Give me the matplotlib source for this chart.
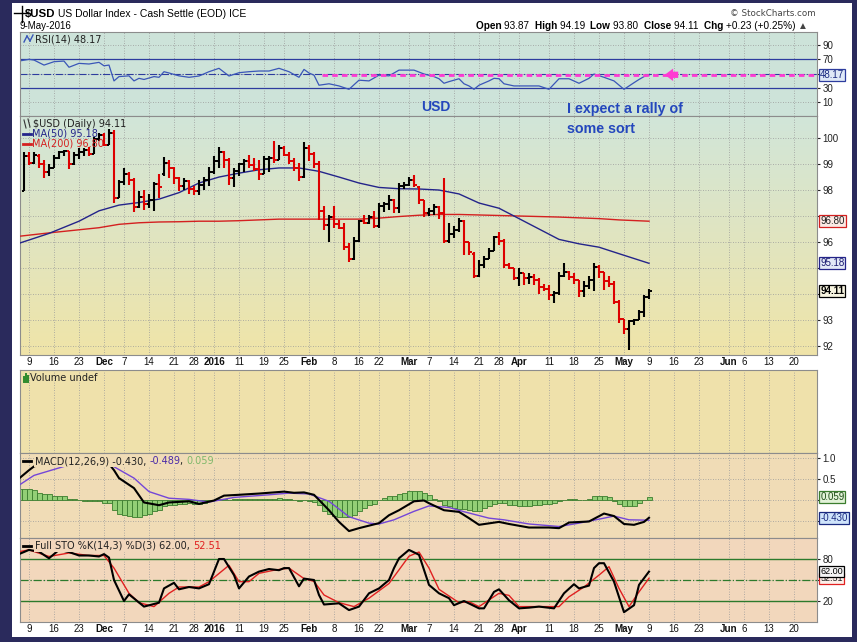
import numpy as np
import pandas as pd
import matplotlib
matplotlib.use("Agg")
import matplotlib.pyplot as plt
from matplotlib.lines import Line2D
from matplotlib.patches import Rectangle

W, H = 857, 642

# ---------------- calendar / ticks ----------------
holidays = ["2015-11-26", "2015-12-25", "2016-01-01", "2016-01-18",
            "2016-02-15", "2016-03-25", "2016-05-30"]
tick_dates = ["2015-11-09", "2015-11-16", "2015-11-23", "2015-12-01", "2015-12-07",
              "2015-12-14", "2015-12-21", "2015-12-28", "2016-01-04", "2016-01-11",
              "2016-01-19", "2016-01-25", "2016-02-01", "2016-02-08", "2016-02-16",
              "2016-02-22", "2016-03-01", "2016-03-07", "2016-03-14", "2016-03-21",
              "2016-03-28", "2016-04-01", "2016-04-11", "2016-04-18", "2016-04-25",
              "2016-05-02", "2016-05-09", "2016-05-16", "2016-05-23", "2016-06-01",
              "2016-06-06", "2016-06-13", "2016-06-20"]
tick_labels = ["9", "16", "23", "Dec", "7", "14", "21", "28", "2016", "11", "19", "25",
               "Feb", "8", "16", "22", "Mar", "7", "14", "21", "28", "Apr", "11", "18",
               "25", "May", "9", "16", "23", "Jun", "6", "13", "20"]
bold_labels = ["Dec", "2016", "Feb", "Mar", "Apr", "May", "Jun"]

# ---------------- daily bars, 6-Nov-2015 .. 9-May-2016 ----------------
opens = [97.95, 99.30, 99.05, 99.30, 99.00, 98.70, 98.85, 99.25, 99.45, 99.50,
         99.00, 99.35, 99.45, 99.55, 99.40, 99.95, 100.10, 99.75, 100.20, 97.70,
         98.30, 98.60, 98.40, 97.35, 97.75, 97.45, 97.60, 98.25, 98.60, 99.05,
         98.85, 98.45, 98.15, 98.35, 98.05, 97.95, 98.20, 98.40, 98.70, 99.10,
         99.45, 99.15, 98.45, 98.75, 99.00, 99.10, 98.95, 98.80, 98.60, 99.20,
         99.25, 99.15, 99.60, 99.35, 99.10, 98.85, 98.50, 99.60, 99.40, 99.00,
         97.20, 96.65, 96.95, 96.70, 96.55, 95.80, 95.35, 96.05, 96.80, 96.75,
         96.95, 96.60, 97.40, 97.45, 97.60, 97.30, 98.15, 98.20, 98.40, 98.10,
         97.60, 97.10, 97.20, 97.35, 97.10, 96.05, 96.30, 96.45, 96.80, 96.00,
         95.55, 94.70, 95.10, 95.35, 95.65, 96.20, 96.05, 95.10, 95.00, 94.60,
         94.80, 94.60, 94.65, 94.55, 94.25, 94.20, 93.95, 94.05, 94.70, 94.85,
         94.65, 94.55, 94.10, 94.30, 94.55, 95.05, 94.85, 94.50, 94.40, 93.70,
         93.05, 92.65, 92.95, 93.00, 93.30, 93.87]
highs = [99.45, 99.45, 99.45, 99.40, 99.15, 99.00, 99.35, 99.50, 99.55, 99.50,
         99.45, 99.60, 99.60, 99.65, 100.05, 100.20, 100.20, 100.35, 100.30, 98.40,
         98.85, 98.70, 98.45, 97.95, 98.00, 97.85, 98.30, 98.60, 99.27, 99.15,
         98.90, 98.50, 98.45, 98.40, 98.15, 98.40, 98.50, 98.90, 99.30, 99.65,
         99.50, 99.25, 98.85, 99.05, 99.20, 99.35, 99.25, 99.15, 99.30, 99.30,
         99.90, 99.75, 99.70, 99.45, 99.25, 99.05, 99.85, 99.75, 99.45, 99.10,
         97.40, 97.05, 97.40, 96.85, 96.75, 95.95, 96.20, 96.85, 97.05, 97.05,
         97.20, 97.50, 97.55, 97.80, 97.65, 98.27, 98.30, 98.50, 98.58, 98.15,
         97.60, 97.30, 97.45, 97.40, 98.46, 96.75, 96.60, 96.92, 96.85, 96.00,
         95.60, 95.30, 95.45, 95.75, 96.25, 96.40, 96.10, 95.20, 95.00, 95.00,
         94.80, 94.80, 94.75, 94.60, 94.40, 94.35, 94.10, 94.85, 95.20, 94.90,
         94.80, 94.55, 94.50, 94.70, 95.20, 95.10, 94.85, 94.70, 94.50, 93.75,
         93.05, 93.00, 93.05, 93.40, 93.95, 94.19]
lows = [97.95, 98.95, 99.00, 98.85, 98.45, 98.55, 98.85, 99.20, 99.30, 98.80,
        98.95, 99.20, 99.30, 99.30, 99.40, 99.90, 99.70, 99.75, 97.50, 97.70,
        98.20, 98.20, 97.15, 97.30, 97.25, 97.30, 97.20, 97.70, 98.55, 98.45,
        98.25, 97.95, 98.00, 97.85, 97.80, 97.80, 98.00, 98.15, 98.60, 98.85,
        98.85, 98.20, 98.10, 98.55, 98.70, 98.85, 98.75, 98.40, 98.60, 98.70,
        99.05, 99.15, 99.30, 99.00, 98.75, 98.35, 98.45, 99.10, 98.85, 96.85,
        96.45, 96.00, 96.55, 96.50, 95.70, 95.23, 95.30, 96.00, 96.70, 96.70,
        96.55, 96.55, 97.15, 97.25, 97.10, 97.10, 98.05, 98.15, 98.10, 97.45,
        96.95, 97.00, 97.05, 96.90, 95.96, 95.96, 96.15, 96.40, 95.50, 95.50,
        94.60, 94.65, 95.00, 95.35, 95.65, 95.90, 95.00, 94.95, 94.55, 94.30,
        94.35, 94.40, 94.35, 94.00, 94.10, 93.77, 93.65, 93.96, 94.65, 94.55,
        94.40, 93.90, 93.90, 94.20, 94.10, 94.60, 94.15, 94.25, 93.60, 92.90,
        92.45, 91.85, 92.80, 93.00, 93.10, 93.80]
closes = [99.30, 99.05, 99.35, 99.00, 98.70, 98.85, 99.25, 99.45, 99.50, 99.00,
          99.35, 99.45, 99.55, 99.40, 99.95, 100.10, 99.75, 100.20, 97.70, 98.30,
          98.60, 98.40, 97.35, 97.75, 97.45, 97.60, 98.25, 98.10, 99.05, 98.85,
          98.45, 98.15, 98.35, 98.05, 97.95, 98.20, 98.40, 98.70, 99.10, 99.45,
          99.15, 98.45, 98.75, 99.00, 99.10, 98.95, 98.80, 98.60, 99.20, 99.25,
          99.15, 99.60, 99.35, 99.10, 98.85, 98.50, 99.60, 99.40, 99.00, 97.20,
          96.65, 96.95, 96.70, 96.55, 95.80, 95.35, 96.05, 96.80, 96.75, 96.95,
          96.60, 97.40, 97.45, 97.60, 97.30, 98.15, 98.20, 98.40, 98.20, 97.60,
          97.10, 97.20, 97.35, 97.10, 96.05, 96.30, 96.45, 96.80, 96.00, 95.60,
          94.70, 95.10, 95.35, 95.65, 96.20, 96.05, 95.10, 95.00, 94.60, 94.80,
          94.60, 94.65, 94.55, 94.25, 94.20, 93.95, 94.05, 94.70, 94.85, 94.65,
          94.55, 94.10, 94.30, 94.55, 95.05, 94.85, 94.50, 94.40, 93.70, 93.05,
          92.65, 92.95, 93.00, 93.30, 93.88, 94.11]

# ---------------- indicator readings (bar index, value) ----------------
ma_idx = [-1, 5, 11, 15, 19, 23, 27, 31, 35, 39, 43, 47, 51, 55, 59, 63, 67, 71, 75, 79,
          83, 87, 91, 95, 99, 103, 107, 111, 115, 119, 125]
ma50 = [95.95, 96.33, 96.8, 97.2, 97.42, 97.52, 97.65, 97.9, 98.27, 98.5, 98.65, 98.78,
        98.85, 98.85, 98.72, 98.5, 98.27, 98.1, 98.05, 98.04, 98.0, 97.85, 97.5, 97.3,
        96.9, 96.5, 96.1, 95.93, 95.8, 95.55, 95.18]
ma200 = [96.22, 96.35, 96.47, 96.55, 96.68, 96.74, 96.77, 96.78, 96.8, 96.8, 96.82, 96.85,
         96.88, 96.88, 96.88, 96.88, 96.88, 96.92, 96.98, 97.03, 97.06, 97.06, 97.04, 97.02,
         97.0, 96.98, 96.96, 96.93, 96.9, 96.85, 96.8]

rsi_idx = [-1, 1, 2, 4, 6, 8, 9, 11, 13, 15, 16, 17, 18, 19, 21, 22, 23, 24, 26, 27,
           28, 29, 31, 33, 35, 37, 39, 41, 43, 45, 47, 49, 51, 53, 55, 56, 57, 58, 59, 61,
           63, 65, 67, 69, 71, 73, 75, 78, 80, 82, 83, 84, 85, 87, 88, 89, 90, 91, 93, 94,
           95, 96, 98, 101, 103, 105, 107, 109, 111, 113, 114, 116, 118, 120, 122, 123, 124, 125]
rsi_val = [67.6, 70, 69, 62, 66.7, 67.6, 59, 64.4, 63.5, 65.8, 61, 62, 40, 46, 47, 40, 43.6, 42, 46, 45,
           52.8, 51, 47, 45, 46.8, 52.8, 57.5, 46.8, 51.4, 52.8, 53.75, 53.75, 57.5, 52.8, 45, 56, 51, 48, 34, 36,
           33, 28.3, 41, 40, 48, 47, 55, 55, 49.6, 46, 43, 36.7, 39, 43, 36, 33, 28.3, 34, 40, 43.6,
           43, 36, 33, 33, 33, 28.3, 43, 43, 36.7, 43.6, 49.6, 45, 40, 28.3, 37.5, 42, 46, 48.17]

macd_idx = [-1, 1, 2, 5, 9, 13, 15, 17, 18, 19, 22, 24, 27, 29, 33, 35, 38, 40, 43, 47,
            52, 54, 56, 58, 61, 63, 65, 67, 71, 73, 75, 78, 80, 81, 84, 87, 89, 91, 95, 97,
            101, 105, 107, 109, 113, 116, 118, 120, 122, 124, 125]
macd_val = [0.51, 0.71, 0.80, 0.91, 0.955, 0.97, 0.94, 0.86, 0.71, 0.52, 0.28, -0.064, -0.13, -0.064,
            -0.036, -0.10, -0.017, 0.10, 0.12, 0.15, 0.196, 0.168, 0.177, 0.12, -0.25, -0.53, -0.75,
            -0.68, -0.56, -0.37, -0.25, -0.036, -0.017, -0.082, -0.25, -0.29, -0.44, -0.60, -0.53,
            -0.58, -0.665, -0.665, -0.68, -0.545, -0.52, -0.33, -0.39, -0.58, -0.60, -0.53, -0.43]
sig_idx = [-1, 2, 8, 12, 16, 17, 22, 25, 29, 33, 37, 42, 49, 53, 57, 61, 65, 69, 71, 74,
           78, 81, 85, 88, 93, 96, 101, 107, 111, 116, 118, 121, 125]
sig_val = [0.35, 0.585, 0.80, 0.91, 0.93, 0.86, 0.52, 0.196, 0.038, 0.01, -0.054, 0.057, 0.12,
           0.16, 0.14, -0.036, -0.406, -0.56, -0.58, -0.48, -0.277, -0.147, -0.184, -0.286,
           -0.44, -0.48, -0.58, -0.64, -0.56, -0.44, -0.39, -0.48, -0.489]
# histogram, one value per bar from index -1 to 125
hist_val = [0.27, 0.27, 0.27, 0.23, 0.17, 0.14, 0.14, 0.10, 0.09, 0.08,
            0.02, 0.01, 0.0, -0.02, -0.03, -0.03, -0.04, -0.07, -0.08, -0.25,
            -0.34, -0.36, -0.40, -0.42, -0.41, -0.36, -0.33, -0.27, -0.24, -0.14,
            -0.12, -0.12, -0.11, -0.09, -0.08, -0.09, -0.09, -0.07, -0.03, 0.0,
            0.03, 0.02, 0.0, 0.01, 0.01, 0.02, 0.02, 0.01, 0.01, 0.02,
            0.02, 0.03, 0.04, 0.03, 0.02, -0.01, -0.03, 0.0, -0.02, -0.06,
            -0.12, -0.27, -0.33, -0.38, -0.42, -0.42, -0.41, -0.36, -0.26, -0.20,
            -0.13, -0.10, -0.01, 0.04, 0.09, 0.10, 0.13, 0.17, 0.20, 0.22,
            0.21, 0.16, 0.12, 0.02, -0.03, -0.12, -0.16, -0.19, -0.21, -0.23,
            -0.25, -0.27, -0.27, -0.20, -0.14, -0.10, -0.07, -0.08, -0.12, -0.13,
            -0.15, -0.16, -0.16, -0.13, -0.12, -0.10, -0.09, -0.08, -0.04, 0.0,
            0.03, 0.03, 0.0, 0.0, 0.02, 0.08, 0.09, 0.09, 0.07, -0.02,
            -0.10, -0.16, -0.16, -0.15, -0.07, 0.0, 0.059]

k_idx = [-1, 1, 3, 5, 7, 9, 11, 13, 15, 16, 17, 18, 20, 21, 24, 27, 28, 30, 31, 33,
         35, 37, 39, 40, 42, 43, 45, 47, 49, 51, 52, 53, 55, 56, 58, 59, 60, 63, 65, 67,
         69, 71, 73, 74, 75, 77, 79, 81, 83, 85, 86, 88, 91, 92, 94, 95, 97, 99, 101, 103,
         106, 108, 110, 111, 113, 114, 115, 116, 118, 120, 122, 123, 125]
k_val = [87, 93, 90.5, 81, 93, 90, 85, 85, 83.6, 87, 82, 50, 20, 29.5, 12, 17.6, 38, 46, 36.7, 40,
         38, 44, 80, 80, 57, 38, 55, 62, 65.7, 64, 67, 67, 41, 52, 50, 28.6, 15, 16.7, 7, 12,
         31, 38, 50, 67, 81, 93, 86, 43, 31, 24, 14, 20, 9.5, 9.5, 33, 36.7, 21, 9.5, 10.5, 12,
         9.5, 31, 44, 38, 42, 67, 74, 74, 47.6, 4, 14, 43, 62]
d_idx = [-1, 1, 5, 9, 13, 16, 18, 21, 23, 26, 29, 31, 35, 37, 41, 43, 45, 47, 50, 53,
         56, 58, 60, 63, 66, 69, 73, 77, 79, 81, 83, 87, 89, 91, 95, 97, 99, 103, 107, 109,
         112, 115, 117, 119, 121, 123, 125]
d_val = [90.5, 93, 83.6, 88.6, 85, 85, 67, 31, 17.6, 12, 31, 40, 40, 47.6, 71, 47.6, 47.6, 59.5, 64, 67,
         52, 48, 28.6, 17.6, 12, 24, 45, 84, 90, 67, 36.7, 17.6, 19, 12, 31, 28, 12, 12, 12, 26,
         40, 57, 69, 38, 12, 33, 52.51]

# ---------------- figure ----------------
fig = plt.figure(figsize=(W / 100, H / 100), dpi=100)
fig.patch.set_facecolor("#2a2a5c")
fig.add_artist(Rectangle((12 / W, 1 - 637 / H), (852 - 12) / W, (637 - 3) / H,
                         transform=fig.transFigure, facecolor="white", edgecolor="none", zorder=-5))


def px_axes(x0, y0, x1, y1):
    return fig.add_axes([x0 / W, 1 - y1 / H, (x1 - x0) / W, (y1 - y0) / H])


XL = (-0.8, 158.6)
days = pd.bdate_range("2015-11-05", "2016-06-30")
days = days[~days.isin(pd.to_datetime(holidays))]
pos = {d: k - 1 for k, d in enumerate(days)}
tick_pos = [pos[pd.Timestamp(d)] for d in tick_dates]

ax_r = px_axes(20, 32, 817, 116)
ax_p = px_axes(20, 116, 817, 355)
ax_v = px_axes(20, 370, 817, 453)
ax_m = px_axes(20, 453, 817, 538)
ax_s = px_axes(20, 538, 817, 622)

bgs = {ax_r: "#cde3d9", ax_p: "none", ax_v: "#efe1ab", ax_m: "#f0dcb6", ax_s: "#f2d7bc"}
for ax, bg in bgs.items():
    ax.set_facecolor(bg)
    ax.set_xlim(*XL)
    for sp in ax.spines.values():
        sp.set_color("#8c8c8c")
        sp.set_linewidth(0.8)
    ax.set_xticks(tick_pos)
    ax.tick_params(axis="x", length=0, labelbottom=False)
    ax.yaxis.tick_right()
    ax.tick_params(axis="y", length=2, pad=2, labelsize=7, colors="#222222")
    ax.grid(True, linestyle=(0, (1, 2)), color="#9a9a9a", linewidth=0.6)

for ax in (ax_p, ax_s):
    ax.set_xticklabels(tick_labels)
    ax.tick_params(axis="x", labelbottom=True, labelsize=7, pad=1.5, colors="#111111")
    for lab in ax.get_xticklabels():
        lab.set_family("Liberation Sans")
        if lab.get_text() in bold_labels:
            lab.set_fontweight("bold")

# ---- RSI panel ----
ax_r.set_ylim(-8.8, 108)
ax_r.set_yticks([10, 30, 50, 70, 90])
ax_r.set_yticklabels(["10", "30", "", "70", "90"])
ax_r.axhline(70, color="#2d3c9e", lw=0.9)
ax_r.axhline(30, color="#2d3c9e", lw=0.9)
ax_r.axhline(50, color="#2d3c9e", lw=0.8, ls="-.")
ax_r.plot(rsi_idx, rsi_val, color="#3a56b8", lw=0.9)
ax_r.plot([59.6, XL[1]], [48.5, 48.5], color="#ff3ad2", lw=2, ls=(0, (2, 1.5)))
ax_r.annotate("", xy=(127.6, 48.5), xytext=(131.4, 48.5),
              arrowprops=dict(arrowstyle="simple,head_width=0.9,head_length=0.6,tail_width=0.45",
                              color="#ff3ad2", lw=0))

# ---- price panel ----
ylo, yhi = 91.65, 100.85
ax_p.set_ylim(ylo, yhi)
ax_p.set_yticks(range(92, 101))
ax_p.set_yticklabels(["92", "93", "", "", "96", "", "98", "99", "100"])
top = np.array([0.82, 0.90, 0.85])
bot = np.array([0.94, 0.894, 0.66])
grad = top + np.linspace(0, 1, 128)[:, None, None] * (bot - top)
ax_p.imshow(grad, extent=(XL[0], XL[1], ylo, yhi), aspect="auto", zorder=0, origin="upper")
ax_p.set_xlim(*XL)

idx = np.arange(len(closes))
prev = [opens[0]] + closes[:-1]
cols = ["#000000" if c >= p else "#dd0000" for c, p in zip(closes, prev)]
ax_p.plot(ma_idx, ma200, color="#d42020", lw=1.0, zorder=3)
ax_p.plot(ma_idx, ma50, color="#24248a", lw=1.0, zorder=3)
ax_p.vlines(idx, lows, highs, colors=cols, lw=1.5, zorder=4)
ax_p.hlines(opens, idx - 0.5, idx, colors=cols, lw=1.4, zorder=4)
ax_p.hlines(closes, idx, idx + 0.5, colors=cols, lw=1.4, zorder=4)

# ---- volume panel ----
ax_v.set_ylim(0, 1)
ax_v.set_yticks([])

# ---- MACD panel ----
ax_m.set_ylim(-0.916, 1.122)
ax_m.set_yticks([-0.5, 0.0, 0.5, 1.0])
ax_m.set_yticklabels(["", "", "0.5", "1.0"])
ax_m.bar(np.arange(-1, len(hist_val) - 1), hist_val, width=1.0, color="#93cf76",
         edgecolor="#3b7d2e", linewidth=0.6, zorder=2)
ax_m.plot(sig_idx, sig_val, color="#7446d8", lw=1.0, zorder=3)
ax_m.plot(macd_idx, macd_val, color="#000000", lw=1.5, zorder=4)

# ---- STO panel ----
ax_s.set_ylim(-10, 110)
ax_s.set_yticks([20, 50, 80])
ax_s.set_yticklabels(["20", "", "80"])
ax_s.axhline(80, color="#2c7a2c", lw=1.0)
ax_s.axhline(20, color="#2c7a2c", lw=1.0)
ax_s.axhline(50, color="#2c7a2c", lw=0.9, ls="-.")
ax_s.plot(d_idx, d_val, color="#e02020", lw=1.0, zorder=3)
ax_s.plot(k_idx, k_val, color="#000000", lw=1.5, zorder=4)

for ax in bgs:
    for lab in ax.get_yticklabels():
        lab.set_family("Liberation Sans")


# ---- value tags on right axis ----
def tag(ax, y, text, edge, fc, tc, bold=False, z=20, size=7):
    ax.text(1.004, y, text, transform=ax.get_yaxis_transform(), fontsize=size,
            family="Liberation Sans", color=tc, fontweight="bold" if bold else "normal",
            va="center", ha="left", clip_on=False, zorder=z,
            bbox=dict(boxstyle="square,pad=0.1", fc=fc, ec=edge, lw=0.9))


tag(ax_r, 48.17, "48.17", "#2d3c9e", "#dfe9f7", "#1a2a80")
tag(ax_p, 96.80, "96.80", "#d42020", "#fbe9e4", "#202020")
tag(ax_p, 95.18, "95.18", "#24248a", "#e2e8f6", "#1a1a70")
tag(ax_p, 94.11, "94.11", "#000000", "#f7f4e0", "#000000", bold=True)
tag(ax_m, -0.43, "-0.430", "#1a2a80", "#cfe4fb", "#1a2a80")
tag(ax_m, 0.059, "0.059", "#3b7d2e", "#e2f2d8", "#1d4d16")
tag(ax_s, 52.0, "52.51", "#e02020", "#fdf0ea", "#202020", z=19, size=6.5)
tag(ax_s, 62.5, "62.00", "#000000", "#f5f5f5", "#000000", z=21, size=6.5)

# ---------------- texts ----------------
rend = fig.canvas.get_renderer()


def rich(x, y, parts, size=7, family="DejaVu Sans", ha="left", bg=None):
    items = []
    for s, color, weight in parts:
        kw = {}
        if bg is not None:
            kw["bbox"] = dict(facecolor=bg, edgecolor="none", pad=0.6)
        t = fig.text(0, 0, s, fontsize=size, color=color, fontweight=weight,
                     family=family, va="center", ha="left", zorder=30, **kw)
        items.append((t, t.get_window_extent(rend).width))
    total = sum(w for _, w in items)
    cur = x - total if ha == "right" else x
    for t, w in items:
        t.set_position((cur / W, 1 - y / H))
        cur += w


def fline(x0, x1, y0, y1, color, lw):
    fig.add_artist(Line2D([x0 / W, x1 / W], [1 - y0 / H, 1 - y1 / H],
                          transform=fig.transFigure, color=color, lw=lw, zorder=31))


# title block
fline(14, 28, 13, 13, "black", 1.0)
fline(22, 22, 6, 22, "black", 1.0)
rich(25, 14, [("$USD", "black", "bold")], size=8.2, family="Liberation Sans")
rich(58, 14, [("US Dollar Index - Cash Settle (EOD) ", "black", "normal"),
              ("ICE", "black", "normal")], size=7.5, family="Liberation Sans")
rich(19, 26, [("9-May-2016", "black", "normal")], size=7, family="Liberation Sans")
rich(816, 13, [("© StockCharts.com", "#444444", "normal")], size=6.3, ha="right")
rich(808, 26, [("Open ", "black", "bold"), ("93.87  ", "black", "normal"),
               ("High ", "black", "bold"), ("94.19  ", "black", "normal"),
               ("Low ", "black", "bold"), ("93.80  ", "black", "normal"),
               ("Close ", "black", "bold"), ("94.11  ", "black", "normal"),
               ("Chg ", "black", "bold"), ("+0.23 (+0.25%) ", "black", "normal"),
               ("▲", "#444444", "normal")], size=7.2, family="Liberation Sans", ha="right")

# panel legends
fline(24, 27, 42, 36, "#3a56b8", 1.0)
fline(27, 30, 36, 41, "#3a56b8", 1.0)
fline(30, 33, 41, 35, "#3a56b8", 1.0)
rich(35, 39, [("RSI(14) 48.17", "#222222", "normal")], bg="#cde3d9")
rich(33, 124, [("$USD (Daily) 94.11", "#222222", "normal")])
fline(24, 26, 120, 128, "#333333", 0.8)
fline(28, 30, 119, 127, "#333333", 0.8)
fline(23, 31, 134, 134, "#24248a", 2.0)
rich(32, 134, [("MA(50) 95.18", "#24248a", "normal")])
fline(23, 31, 144, 144, "#d42020", 2.0)
rich(32, 144, [("MA(200) 96.80", "#d42020", "normal")])
for xx, hh in ((23.5, 5), (25.5, 8), (27.5, 6)):
    fline(xx, xx, 382, 382 - hh, "#2c8a2c", 1.4)
rich(30, 378, [("Volume undef", "#222222", "normal")])
fline(23, 31, 461, 461, "black", 2.0)
rich(35, 461, [("MACD(12,26,9) -0.430, ", "#222222", "normal"),
               ("-0.489", "#4a2aa8", "normal"), (", ", "#222222", "normal"),
               ("0.059", "#7fb86a", "normal")], bg="#f0dcb6")
fline(23, 31, 546, 546, "black", 2.0)
rich(35, 546, [("Full STO %K(14,3) %D(3) 62.00, ", "#222222", "normal"),
               ("52.51", "#e02020", "normal")], bg="#f2d7bc")

# annotations
blue = "#2447bd"
rich(421, 107, [("USD", blue, "bold")], size=10, family="Liberation Sans")
rich(567, 109, [("I expect a rally of", blue, "bold")], size=10.3, family="Liberation Sans")
rich(567, 129, [("some sort", blue, "bold")], size=10.3, family="Liberation Sans")

fig.savefig("out.png", dpi=100, facecolor=fig.get_facecolor())
